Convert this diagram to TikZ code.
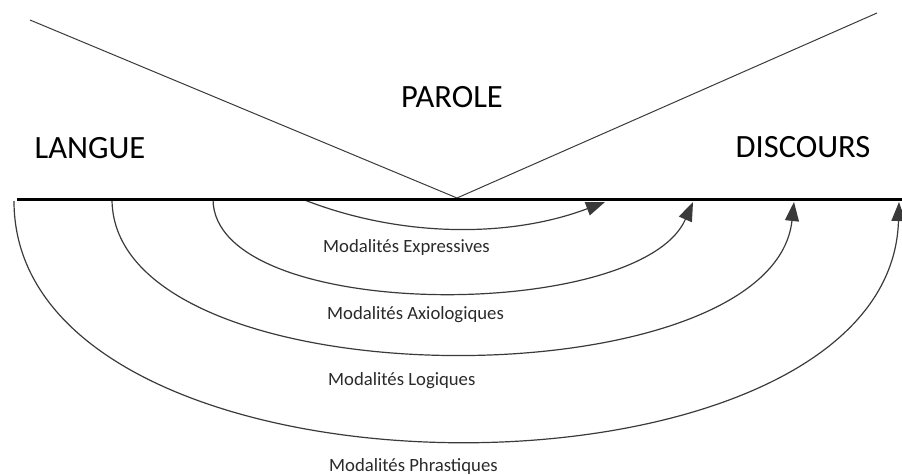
\documentclass[tikz,border=0pt]{standalone}
\usepackage{fontspec}
\setmainfont{Carlito}
\usetikzlibrary{arrows.meta}
\definecolor{lineg}{HTML}{3A3A3A}
\definecolor{txtg}{HTML}{2A2A2A}
\tikzset{
  big/.style={font=\fontsize{32.5}{38}\selectfont, text=black, inner sep=0pt, anchor=base},
  small/.style={font=\fontsize{18.7}{22}\selectfont, text=txtg, inner sep=0pt, anchor=base west},
  vline/.style={draw=lineg, line width=1pt},
  base/.style={draw=black, line width=3pt},
  modarc/.style={draw=lineg, line width=1.2pt, -{Triangle[length=19pt,width=14pt]}}
}
\begin{document}
\begin{tikzpicture}[x=1pt,y=-1pt]
\useasboundingbox (0,0) rectangle (902,474);
% coordinates
\coordinate (vtl) at (30,20);
\coordinate (vtr) at (877,13);
\coordinate (vb) at (457,198);
\coordinate (bl) at (17,199);
\coordinate (br) at (902,199);
\coordinate (a1s) at (302,199);
\coordinate (a1e) at (605,202);
\coordinate (a2s) at (213,199);
\coordinate (a2e) at (693,202);
\coordinate (a3s) at (112,199);
\coordinate (a3e) at (794,202);
\coordinate (a4s) at (14,201);
\coordinate (a4e) at (899,202);
% V lines
\draw[vline] (vtl) -- (vb) -- (vtr);
% arcs
\draw[modarc] (a1s) .. controls (400,238) and (510,238) .. (a1e);
\draw[modarc] (a2s) .. controls (213,323) and (640,323) .. (a2e);
\draw[modarc] (a3s) .. controls (112,404) and (772,404) .. (a3e);
\draw[modarc] (a4s) .. controls (14,520) and (890,520) .. (a4e);
% base line
\draw[base] (bl) -- (br);
% labels
\node[big] (parole) at (452,107) {PAROLE};
\node[big] (langue) at (90,158) {LANGUE};
\node[big] (discours) at (803,157) {DISCOURS};
\node[small] (mexp) at (323,252) {Modalités Expressives};
\node[small] (maxi) at (327,319) {Modalités Axiologiques};
\node[small] (mlog) at (328,385) {Modalités Logiques};
\node[small] (mphr) at (329,471) {Modalités Phrastiques};
\end{tikzpicture}
\end{document}
